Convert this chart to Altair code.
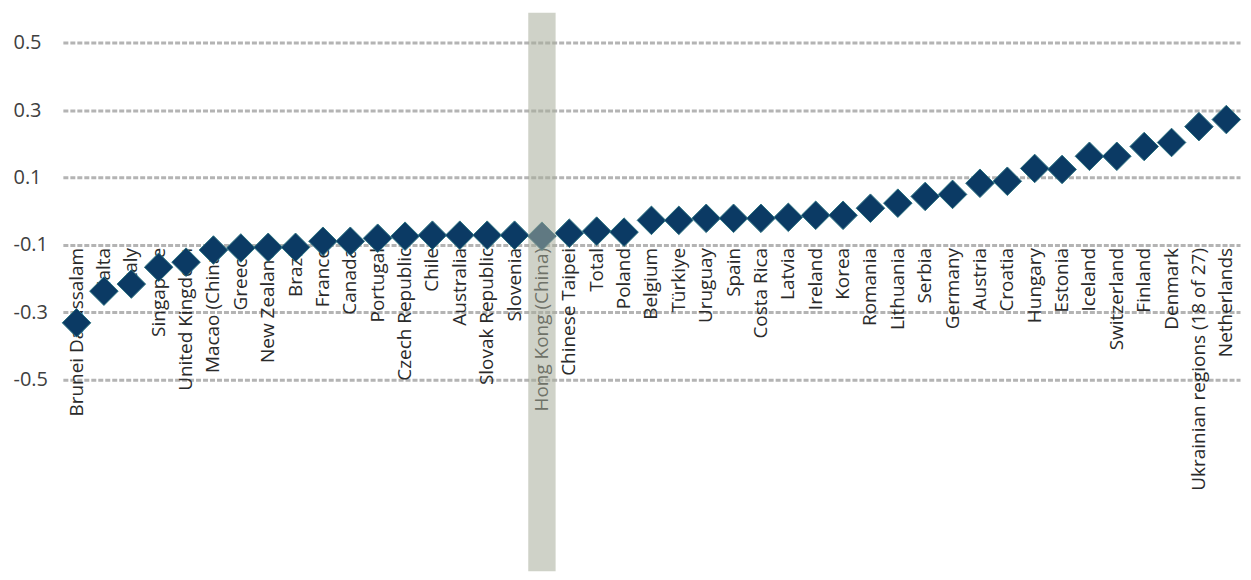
import altair as alt
import pandas as pd

countries = [
    "Brunei Darussalam", "Malta", "Italy", "Singapore", "United Kingdom",
    "Macao (China)", "Greece", "New Zealand", "Brazil", "France", "Canada",
    "Portugal", "Czech Republic", "Chile", "Australia", "Slovak Republic",
    "Slovenia", "Hong Kong (China)", "Chinese Taipei", "Total", "Poland",
    "Belgium", "Türkiye", "Uruguay", "Spain", "Costa Rica", "Latvia",
    "Ireland", "Korea", "Romania", "Lithuania", "Serbia", "Germany",
    "Austria", "Croatia", "Hungary", "Estonia", "Iceland", "Switzerland",
    "Finland", "Denmark", "Ukrainian regions (18 of 27)", "Netherlands",
]
values = [
    -0.331, -0.237, -0.216, -0.166, -0.151,
    -0.115, -0.109, -0.107, -0.107, -0.089, -0.089,
    -0.080, -0.074, -0.071, -0.071, -0.071,
    -0.071, -0.074, -0.065, -0.059, -0.062,
    -0.027, -0.027, -0.021, -0.021, -0.021, -0.018,
    -0.012, -0.012, 0.009, 0.024, 0.044, 0.050,
    0.083, 0.089, 0.127, 0.124, 0.163, 0.163,
    0.192, 0.204, 0.251, 0.272,
]
highlight = "Hong Kong (China)"
y_ticks = [-0.5, -0.3, -0.1, 0.1, 0.3, 0.5]
label_anchor = -0.1

df = pd.DataFrame({"country": countries, "value": values})
df["anchor"] = label_anchor

W = 1180
H = 560
FONT = "Open Sans"

xenc = alt.X("country:N", sort=countries, axis=None,
             scale=alt.Scale(paddingInner=0, paddingOuter=0))
yscale = alt.Scale(domain=[-1.068, 0.589], nice=False, zero=False)

base = alt.Chart(df)

labels = base.mark_text(
    angle=270, align="right", baseline="middle", dx=-3,
    font=FONT, fontSize=19, color="#2a2a2a"
).encode(
    x=xenc,
    y=alt.Y("anchor:Q", scale=yscale,
            axis=alt.Axis(values=y_ticks, title=None, domain=False, ticks=False,
                          labelExpr="'' + datum.value", labelAlign="left",
                          labelPadding=50, labelFont=FONT, labelFontSize=20,
                          labelColor="#404040", grid=True, gridColor="#b4b4b4",
                          gridDash=[5, 2], gridWidth=3)),
    text="country:N",
)

points = base.mark_point(
    shape="diamond", filled=True, size=820, fill="#0b3a64",
    stroke="#2a7080", strokeWidth=1, opacity=1
).encode(
    x=xenc,
    y=alt.Y("value:Q", scale=yscale),
)

band = base.transform_filter(
    alt.datum.country == highlight
).mark_rect(color="#a8ad9a", opacity=0.55).encode(
    x=xenc,
    y=alt.value(0),
    y2=alt.value(H),
)

chart = alt.layer(labels, points, band).properties(
    width=W, height=H,
    padding={"left": 5, "top": 4, "right": 0, "bottom": 0},
).configure_view(stroke=None)

chart.save("out.html", embed_options={"renderer": "svg", "actions": False})
